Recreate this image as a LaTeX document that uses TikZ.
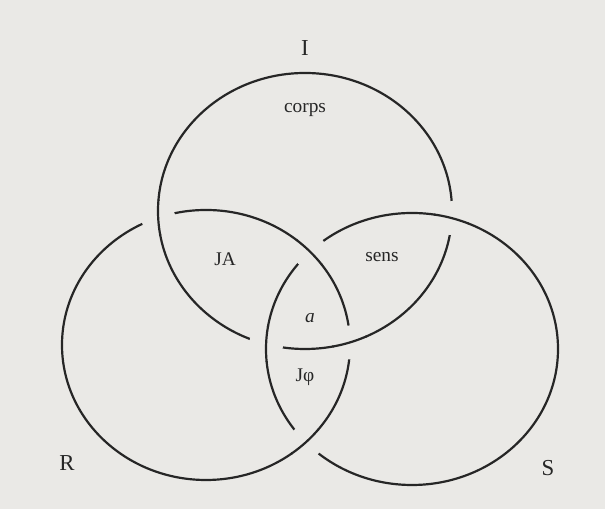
\documentclass[tikz,border=0pt]{standalone}
\usepackage{fontspec}
\setmainfont{Liberation Serif}
\usetikzlibrary{intersections}
\definecolor{paper}{RGB}{234,233,230}
\definecolor{ink}{RGB}{38,38,38}
\tikzset{
ring/.style={draw=ink,line width=1.25pt},
gap/.style={fill=paper},
zone/.style={font=\fontsize{11}{13}\selectfont,text=ink,inner sep=1pt},
tag/.style={font=\fontsize{13}{15}\selectfont,text=ink,inner sep=1pt}
}
% #1 over ring, #2 under ring, #3 centre, #4/#5 radii of the over ring
\newcommand\overcross[5]{%
  \path[name intersections={of=#1 and #2,name=x}];
  \foreach \k in {1,2} {
    \fill[gap] (x-\k) circle (17);
    \begin{scope}
      \clip (x-\k) circle (18);
      \draw[ring] #3 ellipse [x radius=#4, y radius=#5];
    \end{scope}
  }%
}
\begin{document}
\begin{tikzpicture}[x=0.02cm,y=0.02cm]
\fill[paper] (0,0) rectangle (605,509);
\useasboundingbox (0,0) rectangle (605,509);
% the three rings
\draw[ring,name path=I] (305,298) ellipse [x radius=147, y radius=138];
\draw[ring,name path=R] (206,164) ellipse [x radius=144, y radius=135];
\draw[ring,name path=S] (412,160) ellipse [x radius=146, y radius=136];
% crossings: I over R, S over I, R over S
\overcross{I}{R}{(305,298)}{147}{138}
\overcross{S}{I}{(412,160)}{146}{136}
\overcross{R}{S}{(206,164)}{144}{135}
% labels
\node[tag] (li) at (305,461) {I};
\node[tag] (lr) at (67,46) {R};
\node[tag] (ls) at (548,41) {S};
\node[zone] (corps) at (305,399) {corps};
\node[zone] (ja) at (225,250) {JA};
\node[zone] (sens) at (382,252) {sens};
\node[zone] (pa) at (310,191) {\textit{a}};
\node[zone] (jphi) at (305,132) {Jφ};
\end{tikzpicture}
\end{document}
